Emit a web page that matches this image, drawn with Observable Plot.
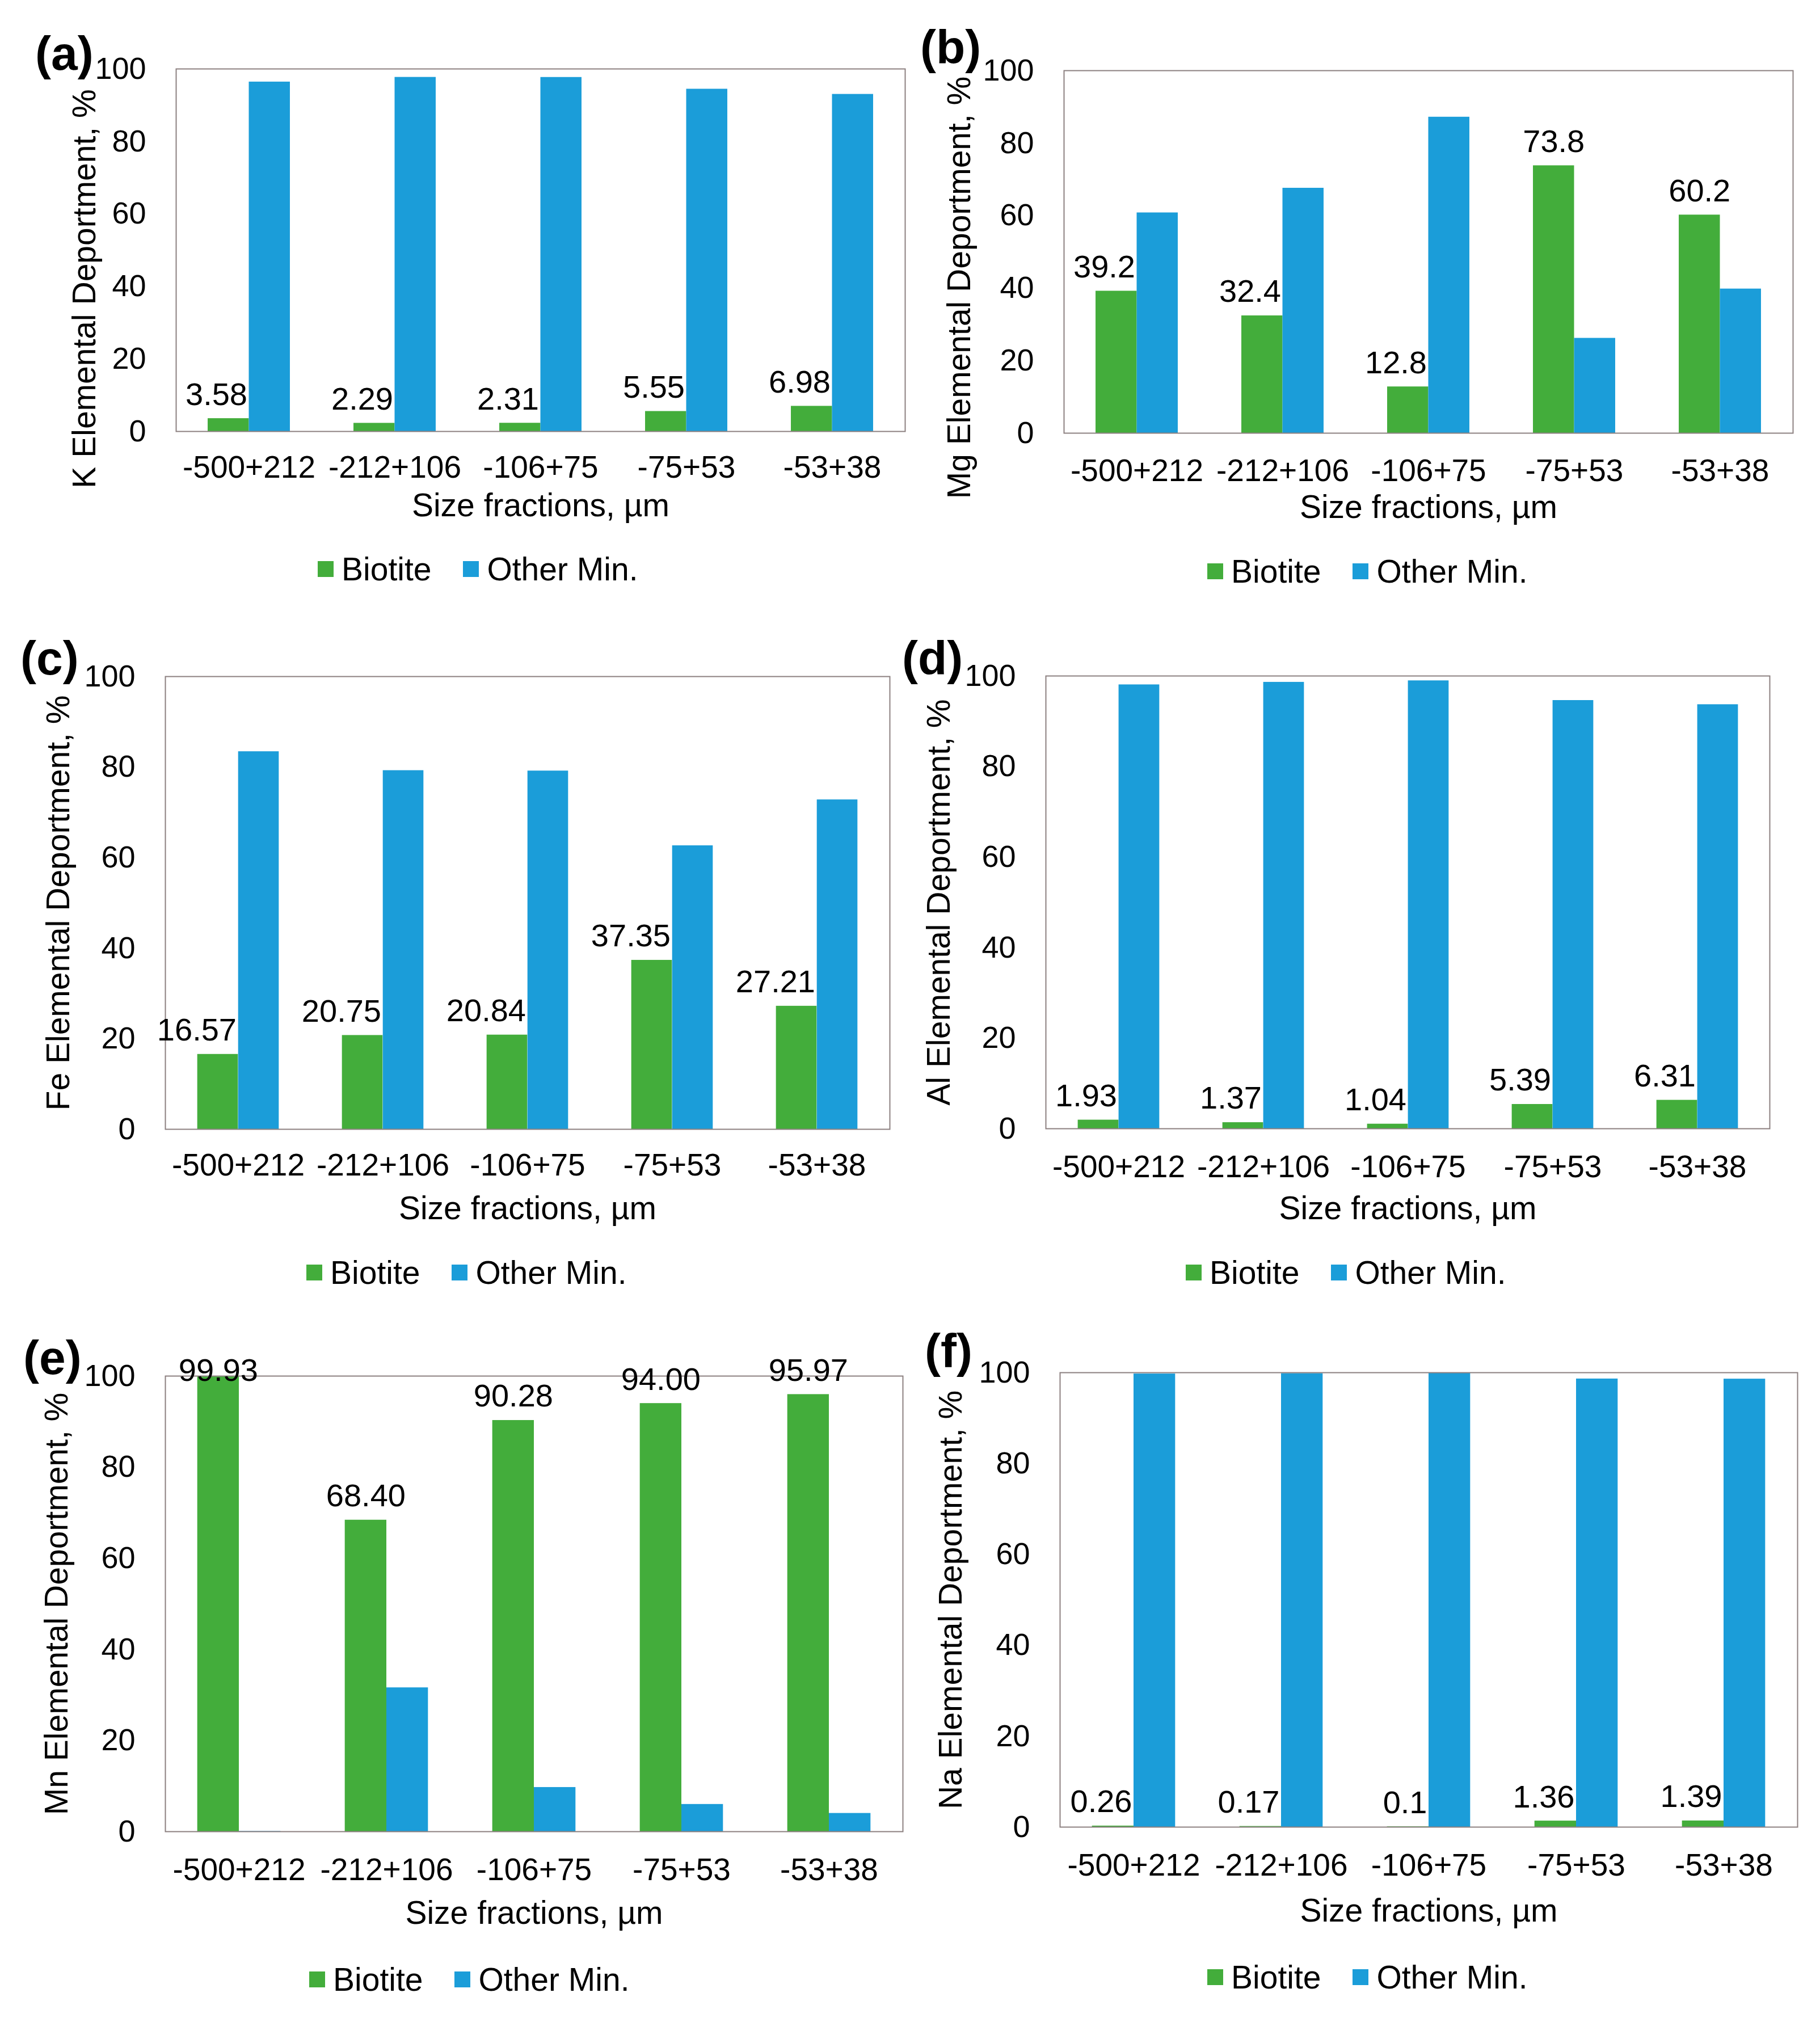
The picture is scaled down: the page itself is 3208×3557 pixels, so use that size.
<!DOCTYPE html>
<html><head><meta charset="utf-8">
<script src="https://cdn.jsdelivr.net/npm/d3@7"></script>
<script src="https://cdn.jsdelivr.net/npm/@observablehq/plot@0.6"></script>
<style>
html,body{margin:0;padding:0;background:#fff;}
#root{position:relative;width:3208px;height:3557px;background:#fff;font-family:"Liberation Sans",Arial,sans-serif;color:#000;overflow:hidden}
.panel{position:absolute}
.tag{position:absolute;font-weight:bold;font-size:84px;line-height:normal;white-space:nowrap}
.legend{position:absolute;display:flex;align-items:center;height:70px;font-size:57px;white-space:nowrap}
.sw{width:28px;height:28px;margin-right:14px}
.gap{width:56px}
</style></head><body><div id="root"></div><script>
const categories = ["-500+212","-212+106","-106+75","-75+53","-53+38"];
const yTicks = [0,20,40,60,80,100];
const seriesNames = ["Biotite","Other Min."];
const xTitle = "Size fractions, µm";

const kBiotite  = [3.58, 2.29, 2.31, 5.55, 6.98];
const kOther    = [96.42, 97.71, 97.69, 94.45, 93.02];
const mgBiotite = [39.2, 32.4, 12.8, 73.8, 60.2];
const mgOther   = [60.8, 67.6, 87.2, 26.2, 39.8];
const feBiotite = [16.57, 20.75, 20.84, 37.35, 27.21];
const feOther   = [83.43, 79.25, 79.16, 62.65, 72.79];
const alBiotite = [1.93, 1.37, 1.04, 5.39, 6.31];
const alOther   = [98.07, 98.63, 98.96, 94.61, 93.69];
const mnBiotite = [99.93, 68.40, 90.28, 94.00, 95.97];
const mnOther   = [0.07, 31.60, 9.72, 6.00, 4.03];
const naBiotite = [0.26, 0.17, 0.1, 1.36, 1.39];
const naOther   = [99.74, 99.83, 99.9, 98.64, 98.61];

const GREEN = "#43ad3b";
const BLUE = "#1b9dd9";
const FRAME = "#8c8080";

const panels = [
  {tag:"(a)", title:"K Elemental Deportment, %", bio:kBiotite, oth:kOther, fmt:String,
   ox:0, oy:0, w:1604, h:960, ml:310, mr:9, mt:121, mb:200, ytDx:-161, ytDy:68, xtDy:131, catPad:42,
   tagL:62, tagT:46, legL:560, legY:1003},
  {tag:"(b)", title:"Mg Elemental Deportment, %", bio:mgBiotite, oth:mgOther, fmt:String,
   ox:1604, oy:0, w:1604, h:960, ml:271, mr:48, mt:124, mb:197, ytDx:-184, ytDy:63, xtDy:131, catPad:45,
   tagL:1622, tagT:35, legL:2128, legY:1007},
  {tag:"(c)", title:"Fe Elemental Deportment, %", bio:feBiotite, oth:feOther, fmt:String,
   ox:0, oy:1100, w:1604, h:1100, ml:291, mr:36, mt:92, mb:210, ytDx:-188, ytDy:0, xtDy:140, catPad:42,
   tagL:36, tagT:1112, legL:540, legY:2243},
  {tag:"(d)", title:"Al Elemental Deportment, %", bio:alBiotite, oth:alOther, fmt:String,
   ox:1604, oy:1100, w:1604, h:1100, ml:239, mr:89, mt:91, mb:211, ytDx:-188, ytDy:0, xtDy:141, catPad:46,
   tagL:1590, tagT:1112, legL:2090, legY:2243},
  {tag:"(e)", title:"Mn Elemental Deportment, %", bio:mnBiotite, oth:mnOther, fmt:d=>d.toFixed(2),
   ox:0, oy:2300, w:1604, h:1140, ml:291, mr:13, mt:125, mb:212, ytDx:-191, ytDy:0, xtDy:144, catPad:46,
   tagL:41, tagT:2345, legL:545, legY:3489},
  {tag:"(f)", title:"Na Elemental Deportment, %", bio:naBiotite, oth:naOther, fmt:String,
   ox:1604, oy:2300, w:1604, h:1140, ml:264, mr:40, mt:119, mb:220, ytDx:-192, ytDy:0, xtDy:148, catPad:46,
   tagL:1630, tagT:2333, legL:2128, legY:3485}
];

const root = document.getElementById("root");

for (const p of panels) {
  const data = categories.map((c,i)=>({cat:c, bio:p.bio[i], oth:p.oth[i]}));
  const bw = (p.w - p.ml - p.mr) / categories.length;
  const txt = {x:"cat", y:"bio", text:d=>p.fmt(d.bio), fontSize:56, lineAnchor:"middle"};
  const chart = Plot.plot({
    width:p.w, height:p.h,
    marginLeft:p.ml, marginRight:p.mr, marginTop:p.mt, marginBottom:p.mb,
    style:{fontFamily:"'Liberation Sans', Arial, sans-serif", fontSize:"54px", background:"transparent", color:"#000", overflow:"visible"},
    x:{domain:categories, padding:0},
    y:{domain:[0,100]},
    marks:[
      Plot.barY(data, {x:"cat", y:"bio", fill:GREEN, insetLeft:bw*0.218, insetRight:bw*0.5}),
      Plot.barY(data, {x:"cat", y:"oth", fill:BLUE, insetLeft:bw*0.5, insetRight:bw*0.218}),
      Plot.frame({stroke:FRAME, strokeWidth:2}),
      Plot.axisY({ticks:yTicks, tickSize:0, tickPadding:53, fontSize:54, label:null}),
      Plot.axisX({tickSize:0, tickPadding:p.catPad, fontSize:55, label:null}),
      Plot.text(data.filter(d=>d.oth>d.bio), {...txt, textAnchor:"end", dx:-3, dy:-42}),
      Plot.text(data.filter(d=>d.oth<=d.bio && d.bio<97), {...txt, textAnchor:"middle", dx:-bw*0.141, dy:-42}),
      Plot.text(data.filter(d=>d.oth<=d.bio && d.bio>=97), {...txt, textAnchor:"middle", dx:-bw*0.141, dy:-10}),
      Plot.text([p.title], {text:d=>d, frameAnchor:"left", rotate:-90, dx:p.ytDx, dy:p.ytDy, fontSize:57, textAnchor:"middle", lineAnchor:"middle"}),
      Plot.text([xTitle], {text:d=>d, frameAnchor:"bottom", dy:p.xtDy, fontSize:57, textAnchor:"middle", lineAnchor:"middle"})
    ]
  });
  chart.classList.add("panel");
  chart.style.left = p.ox + "px";
  chart.style.top = p.oy + "px";
  root.appendChild(chart);

  const tag = document.createElement("div");
  tag.className = "tag";
  tag.textContent = p.tag;
  tag.style.left = p.tagL + "px";
  tag.style.top = p.tagT + "px";
  root.appendChild(tag);

  const leg = document.createElement("div");
  leg.className = "legend";
  leg.style.left = p.legL + "px";
  leg.style.top = (p.legY - 35) + "px";
  [GREEN, BLUE].forEach((col, i) => {
    if (i > 0) { const g = document.createElement("span"); g.className = "gap"; leg.appendChild(g); }
    const sw = document.createElement("span"); sw.className = "sw"; sw.style.background = col; leg.appendChild(sw);
    const t = document.createElement("span"); t.textContent = seriesNames[i]; leg.appendChild(t);
  });
  root.appendChild(leg);
}
</script></body></html>
